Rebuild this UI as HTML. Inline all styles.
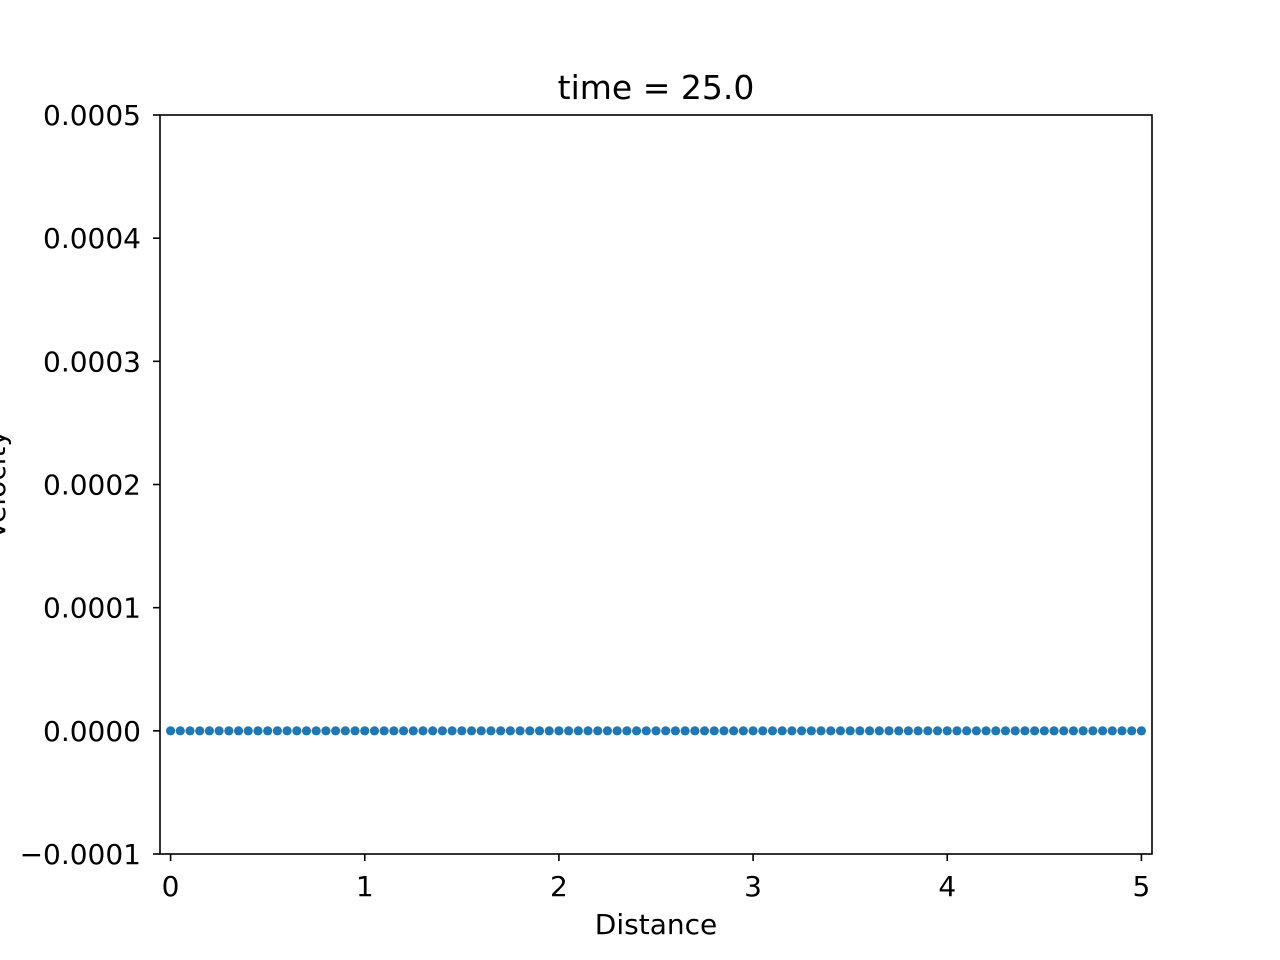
<!DOCTYPE html>
<html><head><meta charset="utf-8"><style>
body{margin:0;background:#fff;}
svg{display:block;font-family:"DejaVu Sans","Liberation Sans",sans-serif;}
</style></head><body>
<svg id="chart" width="1280" height="960" viewBox="0 0 1280 960">
<rect width="1280" height="960" fill="#fff"/>
<text x="656" y="99" font-size="33" text-anchor="middle">time = 25.0</text>
<g id="marks"></g>
<rect x="160" y="115" width="992" height="739" fill="none" stroke="#000" stroke-width="1.6"/>
<g id="xticks"></g>
<g id="yticks"></g>
<text x="656" y="934" font-size="28" text-anchor="middle">Distance</text>
<text transform="translate(5,485) rotate(-90)" font-size="28" text-anchor="middle">Velocity</text>
</svg>
<script>
const xValues=[0,0.05,0.1,0.15,0.2,0.25,0.3,0.35,0.4,0.45,0.5,0.55,0.6,0.65,0.7,0.75,0.8,0.85,0.9,0.95,1,1.05,1.1,1.15,1.2,1.25,1.3,1.35,1.4,1.45,1.5,1.55,1.6,1.65,1.7,1.75,1.8,1.85,1.9,1.95,2,2.05,2.1,2.15,2.2,2.25,2.3,2.35,2.4,2.45,2.5,2.55,2.6,2.65,2.7,2.75,2.8,2.85,2.9,2.95,3,3.05,3.1,3.15,3.2,3.25,3.3,3.35,3.4,3.45,3.5,3.55,3.6,3.65,3.7,3.75,3.8,3.85,3.9,3.95,4,4.05,4.1,4.15,4.2,4.25,4.3,4.35,4.4,4.45,4.5,4.55,4.6,4.65,4.7,4.75,4.8,4.85,4.9,4.95,5];
const velocity=[0,0,0,0,0,0,0,0,0,0,0,0,0,0,0,0,0,0,0,0,0,0,0,0,0,0,0,0,0,0,0,0,0,0,0,0,0,0,0,0,0,0,0,0,0,0,0,0,0,0,0,0,0,0,0,0,0,0,0,0,0,0,0,0,0,0,0,0,0,0,0,0,0,0,0,0,0,0,0,0,0,0,0,0,0,0,0,0,0,0,0,0,0,0,0,0,0,0,0,0,0];
const xTicks=[0,1,2,3,4,5];
const xTickLabels=["0","1","2","3","4","5"];
const yTicks=[-0.0001,0,0.0001,0.0002,0.0003,0.0004,0.0005];
const yTickLabels=["\u22120.0001","0.0000","0.0001","0.0002","0.0003","0.0004","0.0005"];
const NS="http://www.w3.org/2000/svg";
const X0=160,X1=1152,Y0=854,Y1=115,xmin=-0.0545,xmax=5.0545,ymin=-0.0001,ymax=0.0005;
function sx(v){return X0+(v-xmin)/(xmax-xmin)*(X1-X0);}
function sy(v){return Y0-(v-ymin)/(ymax-ymin)*(Y0-Y1);}
function mk(t,a){const e=document.createElementNS(NS,t);for(const k in a)e.setAttribute(k,a[k]);return e;}
const marks=document.getElementById('marks');
xValues.forEach((x,i)=>{
 const c=mk('circle',{cx:sx(x),cy:sy(velocity[i]),r:4.6,fill:'#1f77b4'});
 
 
 marks.appendChild(c);
});
const xg=document.getElementById('xticks');
xTicks.forEach((t,i)=>{
 const l=mk('line',{x1:sx(t),x2:sx(t),y1:854,y2:861,stroke:'#000','stroke-width':1.6});
 
 
 xg.appendChild(l);
 const tx=mk('text',{x:sx(t),y:896,'font-size':28,'text-anchor':'middle'});
 
 
 tx.textContent=xTickLabels[i];xg.appendChild(tx);
});
const yg=document.getElementById('yticks');
yTicks.forEach((t,i)=>{
 const l=mk('line',{x1:153,x2:160,y1:sy(t),y2:sy(t),stroke:'#000','stroke-width':1.6});
 
 
 yg.appendChild(l);
 const tx=mk('text',{x:141,y:sy(t)+10,'font-size':28,'text-anchor':'end'});
 
 
 tx.textContent=yTickLabels[i];yg.appendChild(tx);
});
</script>
</body></html>
